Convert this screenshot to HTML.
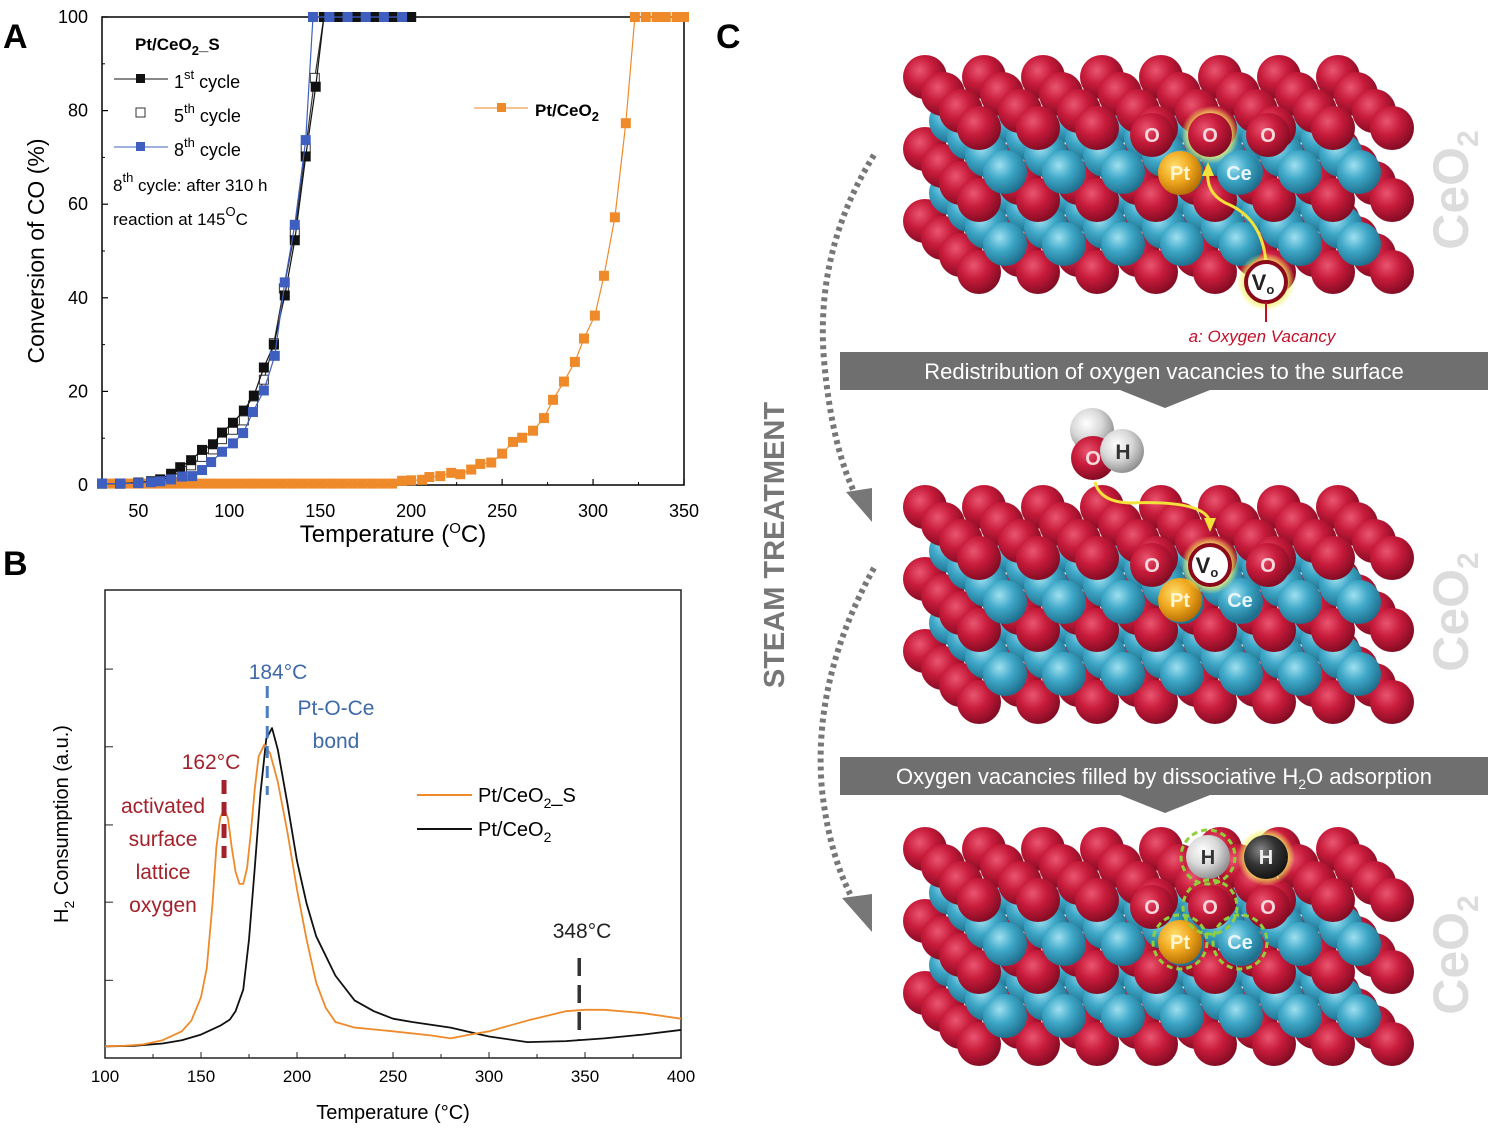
<!DOCTYPE html>
<html><head><meta charset="utf-8">
<style>
body{margin:0;background:#fff;width:1496px;height:1137px;overflow:hidden;font-family:"Liberation Sans",sans-serif}
svg{position:absolute;left:0;top:0}
</style></head>
<body>
<svg id="fig" width="1496" height="1137" viewBox="0 0 1496 1137">
<defs>
<radialGradient id="gr" cx="0.38" cy="0.35" r="0.7"><stop offset="0" stop-color="#e95670"/><stop offset="0.45" stop-color="#c81b3b"/><stop offset="1" stop-color="#7c0a20"/></radialGradient>
<radialGradient id="gb" cx="0.38" cy="0.35" r="0.7"><stop offset="0" stop-color="#9fe0f0"/><stop offset="0.45" stop-color="#3fa8c8"/><stop offset="1" stop-color="#1b6a88"/></radialGradient>
<radialGradient id="gy" cx="0.38" cy="0.35" r="0.7"><stop offset="0" stop-color="#ffe070"/><stop offset="0.5" stop-color="#f0a820"/><stop offset="1" stop-color="#b06a00"/></radialGradient>
<radialGradient id="gw" cx="0.38" cy="0.35" r="0.7"><stop offset="0" stop-color="#ffffff"/><stop offset="0.5" stop-color="#d8d8d8"/><stop offset="1" stop-color="#888"/></radialGradient>
<radialGradient id="gk" cx="0.38" cy="0.35" r="0.7"><stop offset="0" stop-color="#888"/><stop offset="0.5" stop-color="#333"/><stop offset="1" stop-color="#111"/></radialGradient>
<radialGradient id="glow" r="0.5"><stop offset="0.7" stop-color="#f4f060" stop-opacity="0.9"/><stop offset="1" stop-color="#f4f060" stop-opacity="0"/></radialGradient>
</defs>
<g id="pa"></g>
<g id="pb"></g>
<g id="pc"></g>
</svg>
<script>
// ---------- Panel A data ----------
const aCycle1T = [30,40,50,57,62,68,73,79,85,91,96,102,108,113.5,119,124.5,130.5,136,142,147.5,152,160,170,180,190,200];
const aCycle1V = [0.3,0.3,0.5,0.8,1.2,2.4,3.8,5.3,7.5,8.7,11.2,13.3,15.9,19.1,25.1,30,40.5,52.3,70.2,85.1,100,100,100,100,100,100];
const aCycle5T = [30,40,50,57,62,68,74,79,85,91,96,102,108,113,119,124.5,130,136,142,147,152];
const aCycle5V = [0.3,0.3,0.5,0.7,1,1.8,3,4.2,6,7.6,9.8,11.8,13.8,17,22.5,30.3,42,54,72,87,100];
const aCycle8T = [30,40,50,57,62,68,74,79.6,85,90,96,102,107.6,113,119,125,130.5,136,142,146,155,165,175,185,195];
const aCycle8V = [0.3,0.3,0.4,0.6,0.8,1.2,1.8,1.9,3.2,4.9,7.1,8.9,11.1,15.6,20.2,27.6,43.3,55.6,73.7,100,100,100,100,100,100];
const aOrangeT = [30,35.5,41,46.5,52,57.5,63,68.5,74,79.5,85,90.5,96,101.5,107,112.5,118,123.5,129,134.5,140,145.5,151,156.5,162,167.5,173,178.5,184,189.5,195,200,206,210,216,222,227,233,238,244,250,256,261,267,273,278,284,290,295,301,306,312,318,323,329,335,340,346,350];
const aOrangeV = [0.3,0.3,0.3,0.3,0.3,0.3,0.3,0.3,0.3,0.3,0.3,0.3,0.3,0.3,0.3,0.3,0.3,0.3,0.3,0.3,0.3,0.3,0.3,0.3,0.3,0.3,0.3,0.3,0.3,0.3,0.9,1,1.1,1.7,1.9,2.6,2.3,3.3,4.5,4.8,6.7,9.2,10.1,11.6,14.3,18.2,22.1,26.3,31.3,36.2,44.7,57.2,77.3,100,100,100,100,100,100];
const aXTicks = [50,100,150,200,250,300,350];
const aYTicks = [0,20,40,60,80,100];
// ---------- Panel B data ----------
const bOrangeT = [100,110,120,130,140,145,150,153,156,158,160,162,164,166,168,170,172,174,176,178,180,183,186,190,195,200,205,210,215,220,230,250,270,280,290,300,320,340,350,360,380,400];
const bOrangeV = [2.5,2.6,2.9,3.8,5.7,8,13,19.2,33,45,51.3,53.3,51.3,45,39.8,37.2,37.2,40.6,48.3,57.5,64.4,67,65.1,59,48.3,36,25.3,16.1,10.7,7.7,6.5,5.7,4.8,4.2,5,5.7,8,10,10.3,10.3,9.6,8.4];
const bBlackT = [100,115,130,140,150,160,165,168,172,175,178,181,184,187,190,195,200,205,210,220,230,240,250,260,280,300,320,340,360,380,400];
const bBlackV = [2.5,2.6,3.1,3.8,5,6.9,8.2,10,14.6,25.3,40.6,56.7,68.2,70.5,65.9,54.4,42.1,33,26,17.6,12.3,10,8.4,7.7,6.5,4.6,3.4,3.6,4.2,5,6];
const bXTicks = [100,150,200,250,300,350,400];
const bYTicks = [16.6,33.3,49.8,66.5,83.1];

const NS='http://www.w3.org/2000/svg';
function mk(parent,tag,attrs,text){const e=document.createElementNS(NS,tag);for(const k in attrs)e.setAttribute(k,attrs[k]);if(text!==undefined)e.textContent=text;parent.appendChild(e);return e;}

// ===== Panel A =====
const pa=document.getElementById('pa');
const ax=t=>102+(t-30)*(684-102)/320, ay=v=>485-v*4.68;
mk(pa,'rect',{x:102,y:17,width:582,height:468,fill:'none',stroke:'#000','stroke-width':1.5});
for(const t of aXTicks){const g=mk(pa,'g',{});
 mk(g,'line',{x1:ax(t),x2:ax(t),y1:485,y2:479,stroke:'#000','stroke-width':1.2});
 mk(g,'text',{x:ax(t),y:517,'font-size':18,'text-anchor':'middle'},t);}
for(let t=75;t<350;t+=50){mk(pa,'line',{x1:ax(t),x2:ax(t),y1:485,y2:482,stroke:'#000'});}
for(const v of aYTicks){const g=mk(pa,'g',{});
 mk(g,'line',{x1:102,x2:108,y1:ay(v),y2:ay(v),stroke:'#000','stroke-width':1.2});
 mk(g,'text',{x:88,y:ay(v)+6,'font-size':18,'text-anchor':'end'},v);}
for(let v=10;v<100;v+=20){mk(pa,'line',{x1:102,x2:105,y1:ay(v),y2:ay(v),stroke:'#000'});}
function seriesA(T,V,color,fill,name){
 const g=mk(pa,'g',{});
 mk(g,'polyline',{points:T.map((t,i)=>ax(t)+','+ay(V[i])).join(' '),fill:'none',stroke:color,'stroke-width':1.2});
 T.forEach((t,i)=>{const r=mk(g,'rect',{x:ax(t)-4.5,y:ay(V[i])-4.5,width:9,height:9,fill:fill,stroke:color,'stroke-width':1});
  });
}
seriesA(aOrangeT,aOrangeV,'#ee8a2a','#ee8a2a','series-pt-ceo2');
seriesA(aCycle5T,aCycle5V,'#333','#fff','series-5th-cycle');
seriesA(aCycle1T,aCycle1V,'#111','#111','series-1st-cycle');
seriesA(aCycle8T,aCycle8V,'#3f5fc0','#3f5fc0','series-8th-cycle');
mk(pa,'text',{x:3,y:48,'font-size':34,'font-weight':'bold'},'A');
const yt=mk(pa,'text',{x:44,y:251,'font-size':23,'text-anchor':'middle',transform:'rotate(-90 44 251)'},'Conversion of CO (%)');
const xt=mk(pa,'text',{x:393,y:542,'font-size':24,'text-anchor':'middle'});
xt.innerHTML='Temperature (<tspan dy="-9" font-size="15">O</tspan><tspan dy="9">C)</tspan>';
const lg=mk(pa,'g',{'font-size':18});
mk(lg,'text',{x:135,y:50,'font-size':17,'font-weight':'bold'}).innerHTML='Pt/CeO<tspan dy="5" font-size="13">2</tspan><tspan dy="-5">_S</tspan>';
mk(lg,'line',{x1:114,x2:168,y1:79,y2:79,stroke:'#111'});mk(lg,'rect',{x:136,y:74,width:9,height:9,fill:'#111'});
mk(lg,'text',{x:174,y:88}).innerHTML='1<tspan dy="-9" font-size="13">st</tspan><tspan dy="9"> cycle</tspan>';
mk(lg,'rect',{x:136,y:108,width:9,height:9,fill:'#fff',stroke:'#333'});
mk(lg,'text',{x:174,y:122}).innerHTML='5<tspan dy="-9" font-size="13">th</tspan><tspan dy="9"> cycle</tspan>';
mk(lg,'line',{x1:114,x2:168,y1:147,y2:147,stroke:'#3f5fc0'});mk(lg,'rect',{x:136,y:142,width:9,height:9,fill:'#3f5fc0'});
mk(lg,'text',{x:174,y:156}).innerHTML='8<tspan dy="-9" font-size="13">th</tspan><tspan dy="9"> cycle</tspan>';
mk(lg,'text',{x:113,y:191,'font-size':17}).innerHTML='8<tspan dy="-9" font-size="13">th</tspan><tspan dy="9"> cycle: after 310 h</tspan>';
mk(lg,'text',{x:113,y:225,'font-size':17}).innerHTML='reaction at 145<tspan dy="-9" font-size="13">O</tspan><tspan dy="9">C</tspan>';
mk(lg,'line',{x1:474,x2:528,y1:108,y2:108,stroke:'#ee8a2a'});mk(lg,'rect',{x:497,y:103,width:9,height:9,fill:'#ee8a2a'});
mk(lg,'text',{x:535,y:116,'font-size':17,'font-weight':'bold'}).innerHTML='Pt/CeO<tspan dy="5" font-size="13">2</tspan>';

// ===== Panel B =====
const pb=document.getElementById('pb');
const bx=t=>105+(t-100)*576/300, by=v=>1058-v*4.68;
mk(pb,'rect',{x:105,y:590,width:576,height:468,fill:'none',stroke:'#222','stroke-width':1.5});
for(const t of bXTicks){const g=mk(pb,'g',{});
 mk(g,'line',{x1:bx(t),x2:bx(t),y1:1058,y2:1052,stroke:'#222'});
 mk(g,'text',{x:bx(t),y:1082,'font-size':17,'text-anchor':'middle'},t);}
for(let t=125;t<400;t+=50)mk(pb,'line',{x1:bx(t),x2:bx(t),y1:1058,y2:1054,stroke:'#222'});
for(const v of bYTicks){const l=mk(pb,'line',{x1:105,x2:113,y1:by(v),y2:by(v),stroke:'#222'});}
function seriesB(T,V,color,name){const p=mk(pb,'polyline',{points:T.map((t,i)=>bx(t)+','+by(V[i])).join(' '),fill:'none',stroke:color,'stroke-width':1.8,'stroke-linejoin':'round'});
 }
seriesB(bBlackT,bBlackV,'#111','series-pt-ceo2-tpr');
seriesB(bOrangeT,bOrangeV,'#ee8a2a','series-pt-ceo2-s-tpr');
mk(pb,'line',{x1:bx(162),x2:bx(162),y1:780,y2:858,stroke:'#a3212b','stroke-width':5,'stroke-dasharray':'14 8'});
mk(pb,'line',{x1:bx(184.5),x2:bx(184.5),y1:686,y2:795,stroke:'#4a7ec0','stroke-width':3,'stroke-dasharray':'12 8'});
mk(pb,'line',{x1:bx(347),x2:bx(347),y1:958,y2:1040,stroke:'#333','stroke-width':3.5,'stroke-dasharray':'18 9'});
mk(pb,'text',{x:3,y:575,'font-size':34,'font-weight':'bold'},'B');
mk(pb,'text',{x:278,y:679,'font-size':21,fill:'#3e6aa8','text-anchor':'middle'},'184°C');
mk(pb,'text',{x:336,y:715,'font-size':21,fill:'#3e6aa8','text-anchor':'middle'},'Pt-O-Ce');
mk(pb,'text',{x:336,y:748,'font-size':21,fill:'#3e6aa8','text-anchor':'middle'},'bond');
mk(pb,'text',{x:211,y:769,'font-size':21,fill:'#a3212b','text-anchor':'middle'},'162°C');
['activated','surface','lattice','oxygen'].forEach((w,i)=>mk(pb,'text',{x:163,y:813+i*33,'font-size':21,fill:'#a3212b','text-anchor':'middle'},w));
mk(pb,'text',{x:582,y:938,'font-size':21,fill:'#222','text-anchor':'middle'},'348°C');
const lb=mk(pb,'g',{'font-size':20});
mk(lb,'line',{x1:417,x2:472,y1:795,y2:795,stroke:'#ee8a2a','stroke-width':2});
mk(lb,'text',{x:478,y:802}).innerHTML='Pt/CeO<tspan dy="6" font-size="14">2</tspan><tspan dy="-6">_S</tspan>';
mk(lb,'line',{x1:417,x2:472,y1:829,y2:829,stroke:'#111','stroke-width':2});
mk(lb,'text',{x:478,y:836}).innerHTML='Pt/CeO<tspan dy="6" font-size="14">2</tspan>';
mk(pb,'text',{x:68,y:824,'font-size':20,'text-anchor':'middle',transform:'rotate(-90 68 824)'}).innerHTML='H<tspan dy="6" font-size="14">2</tspan><tspan dy="-6"> Consumption (a.u.)</tspan>';
mk(pb,'text',{x:393,y:1119,'font-size':20,'text-anchor':'middle'},'Temperature (°C)');

// ===== Panel C =====
const pc=document.getElementById('pc');
mk(pc,'text',{x:716,y:48,'font-size':34,'font-weight':'bold'},'C');
function slab(ox,oy){
 const g=mk(pc,'g',{});
 const red=(L)=>{for(let r=0;r<4;r++)for(let c=0;c<8;c++)mk(g,'circle',{cx:ox+c*59+r*18,cy:oy+L*72+r*17,r:22,fill:'url(#gr)'});};
 const blue=(G)=>{for(let r=0;r<4;r++)for(let c=0;c<7;c++)mk(g,'circle',{cx:ox+c*59+26+r*18,cy:oy+G*72+44+r*17,r:22,fill:'url(#gb)'});};
 red(2);blue(1);red(1);blue(0);red(0);
}
function atom(x,y,fill,label,col,glow){if(glow)mk(pc,'circle',{cx:x,cy:y,r:29,fill:'url(#glow)'});
 mk(pc,'circle',{cx:x,cy:y,r:22,fill:fill});mk(pc,'text',{x:x,y:y+7,'font-size':20,'font-weight':'bold',fill:col,'text-anchor':'middle'},label);}
function vac(x,y){mk(pc,'circle',{cx:x,cy:y,r:29,fill:'url(#glow)'});mk(pc,'circle',{cx:x,cy:y,r:20,fill:'#fff',stroke:'#8a0a1c','stroke-width':4});
 mk(pc,'text',{x:x-3,y:y+8,'font-size':22,'font-weight':'bold',fill:'#222','text-anchor':'middle'}).innerHTML='V<tspan font-size="13" dy="4">o</tspan>';}
const slabY=[77,507,849];
slab(925,slabY[0]);
atom(1152,135,'url(#gr)','O','#f4d8dc');atom(1210,135,'url(#gr)','O','#f4d8dc',true);atom(1268,135,'url(#gr)','O','#f4d8dc');
atom(1180,173,'url(#gy)','Pt','#fff6d0');atom(1239,173,'url(#gb)','Ce','#e6f6fb');
mk(pc,'path',{d:'M1266 262 Q1262 220 1230 205 Q1205 195 1208 170',fill:'none',stroke:'#f2e23a','stroke-width':3});
mk(pc,'polygon',{points:'1208,162 1202,176 1214,176',fill:'#f2e23a'});
vac(1266,282);
mk(pc,'line',{x1:1266,x2:1266,y1:302,y2:322,stroke:'#c0102a','stroke-width':2});
mk(pc,'text',{x:1262,y:342,'font-size':17,'font-style':'italic',fill:'#c0102a','text-anchor':'middle'},'a: Oxygen Vacancy');
function banner(y,txt){const g=mk(pc,'g',{});
 mk(g,'polygon',{points:`840,${y} 1488,${y} 1488,${y+38} 1210,${y+38} 1165,${y+56} 1120,${y+38} 840,${y+38}`,fill:'#6f6f6f'});
 mk(g,'text',{x:1164,y:y+27,'font-size':22,fill:'#fff','text-anchor':'middle'}).innerHTML=txt;}
banner(352,'Redistribution of oxygen vacancies to the surface');
slab(925,slabY[1]);
atom(1152,565,'url(#gr)','O','#f4d8dc');atom(1268,565,'url(#gr)','O','#f4d8dc');
atom(1180,600,'url(#gy)','Pt','#fff6d0');atom(1240,600,'url(#gb)','Ce','#e6f6fb');
vac(1210,565);
mk(pc,'circle',{cx:1092,cy:430,r:22,fill:'url(#gw)'});
mk(pc,'circle',{cx:1093,cy:458,r:22,fill:'url(#gr)'});
mk(pc,'text',{x:1093,y:465,'font-size':20,'font-weight':'bold',fill:'#f4d8dc','text-anchor':'middle'},'O');
mk(pc,'circle',{cx:1122,cy:451,r:22,fill:'url(#gw)'});
mk(pc,'text',{x:1123,y:459,'font-size':21,'font-weight':'bold',fill:'#333','text-anchor':'middle'},'H');
mk(pc,'path',{d:'M1095 482 Q1100 502 1130 503 Q1205 500 1210 522',fill:'none',stroke:'#f2e23a','stroke-width':3});
mk(pc,'polygon',{points:'1210,532 1204,518 1216,518',fill:'#f2e23a'});
banner(757,'Oxygen vacancies filled by dissociative H<tspan font-size="14" dy="5">2</tspan><tspan dy="-5">O adsorption</tspan>');
slab(925,slabY[2]);
atom(1152,907,'url(#gr)','O','#f4d8dc');atom(1210,907,'url(#gr)','O','#f4d8dc');atom(1268,907,'url(#gr)','O','#f4d8dc');
atom(1180,942,'url(#gy)','Pt','#fff6d0');atom(1240,942,'url(#gb)','Ce','#e6f6fb');
atom(1208,857,'url(#gw)','H','#333');atom(1266,857,'url(#gk)','H','#eee',true);
[[1208,857],[1210,907],[1180,942],[1240,942]].forEach(p=>mk(pc,'circle',{cx:p[0],cy:p[1],r:27,fill:'none',stroke:'#8fd03a','stroke-width':3,'stroke-dasharray':'6 4'}));
// CeO2 labels
slabY.forEach((y,i)=>{const cy=[190,612,955][i];const t=mk(pc,'text',{x:1468,y:cy,'font-size':50,'font-weight':'bold',fill:'#dcdcdc','text-anchor':'middle',transform:`rotate(-90 1468 ${cy})`});
 t.innerHTML='CeO<tspan font-size="30" dy="10">2</tspan>';});
mk(pc,'text',{x:784,y:545,'font-size':29,'font-weight':'bold',fill:'#777','text-anchor':'middle',transform:'rotate(-90 784 545)'},'STEAM TREATMENT');
mk(pc,'path',{d:'M874 155 Q815 250 824 360 Q832 450 858 500',fill:'none',stroke:'#777','stroke-width':6,'stroke-dasharray':'4 4'});
mk(pc,'polygon',{points:'846,492 872,522 872,488',fill:'#777'});
mk(pc,'path',{d:'M874 568 Q812 680 822 790 Q830 860 856 905',fill:'none',stroke:'#777','stroke-width':6,'stroke-dasharray':'4 4'});
mk(pc,'polygon',{points:'842,898 872,932 872,894',fill:'#777'});
</script>
</body></html>
